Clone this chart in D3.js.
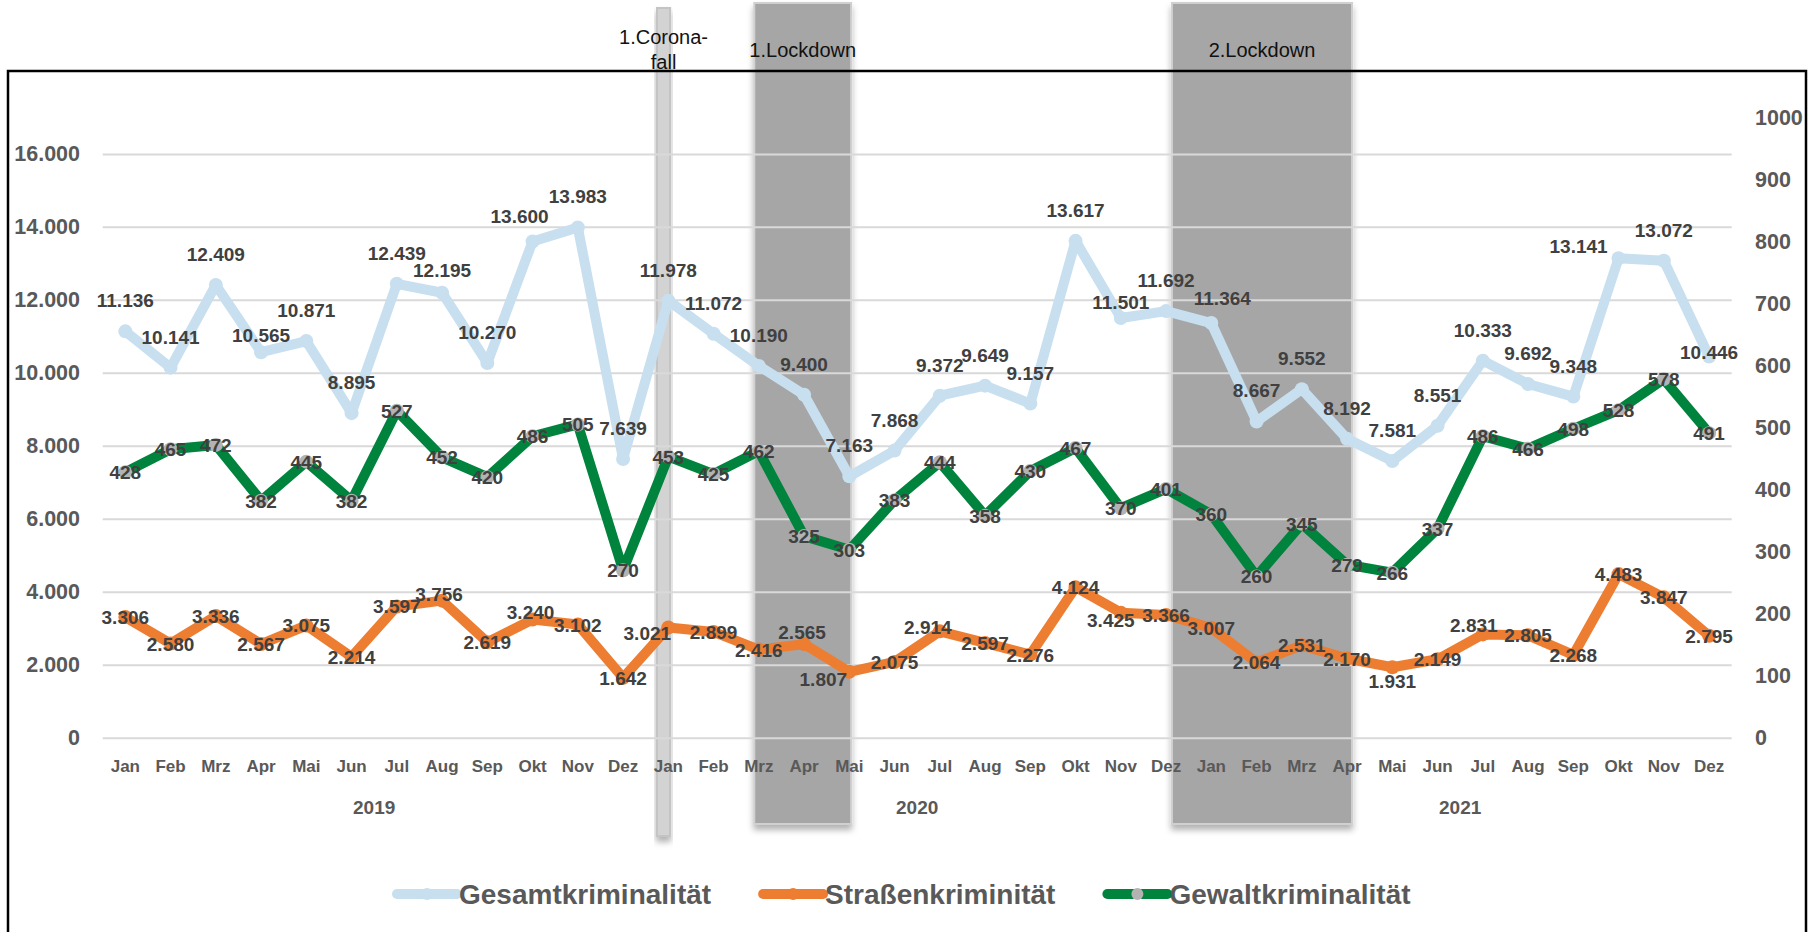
<!DOCTYPE html>
<html>
<head>
<meta charset="utf-8">
<script src="https://cdn.jsdelivr.net/npm/d3@7"></script>
<style>
  body { margin: 0; background: #fff; }
  text { font-family: "Liberation Sans", Arial, sans-serif; }
</style>
</head>
<body>
<svg id="chart"></svg>
<script>
var W = 1817, H = 932;

// data
var years = ["2019", "2020", "2021"];
var months = ["Jan","Feb","Mrz","Apr","Mai","Jun","Jul","Aug","Sep","Okt","Nov","Dez"];
var gesamt = [11136,10141,12409,10565,10871,8895,12439,12195,10270,13600,13983,7639,
              11978,11072,10190,9400,7163,7868,9372,9649,9157,13617,11501,11692,
              11364,8667,9552,8192,7581,8551,10333,9692,9348,13141,13072,10446];
var strassen = [3306,2580,3336,2567,3075,2214,3597,3756,2619,3240,3102,1642,
                3021,2899,2416,2565,1807,2075,2914,2597,2276,4124,3425,3366,
                3007,2064,2531,2170,1931,2149,2831,2805,2268,4483,3847,2795];
var gewalt = [428,465,472,382,445,382,527,452,420,486,505,270,
              453,425,462,325,303,383,444,358,430,467,370,401,
              360,260,345,279,266,337,486,466,498,528,578,491];
var leftTicks = [0,2000,4000,6000,8000,10000,12000,14000,16000];
var rightTicks = [0,100,200,300,400,500,600,700,800,900,1000];
var seriesNames = ["Gesamtkriminalität", "Straßenkriminität", "Gewaltkriminalität"];

// shaded periods, in month positions (0 = Jan 2019)
var periodLabels = [["1.Corona-", "fall"], ["1.Lockdown"], ["2.Lockdown"]];
var periodStart = [11.75, 13.9, 23.13];
var periodEnd = [12.04, 16.04, 27.11];

var cats = [];
years.forEach(y => months.forEach(m => cats.push({year: y, month: m})));

var de = d3.formatLocale({decimal: ",", thousands: ".", grouping: [3], currency: ["", "€"]});
var fmt = de.format(",d");

var plotL = 102.7, plotR = 1731.7, plotT = 117.4, plotB = 737.7;

// hand-moved data labels (pixel shifts, like in the original sheet)
var nudges = [
  {3: [0, 14], 7: [0, 8], 9: [-13, 6], 22: [0, 15], 24: [11, 6], 33: [-40, 19], 35: [0, 26]},
  {7: [-3, -7], 9: [-2, -7], 12: [-21, 6], 15: [-2, -12], 16: [-26, 7], 18: [-12, -4],
   22: [-10, 7], 28: [0, 14], 30: [-9, -9]},
  {}
];

var svg = d3.select("#chart").attr("width", W).attr("height", H);
svg.append("rect").attr("width", W).attr("height", H).attr("fill", "#fff");

var defs = svg.append("defs");
var f = defs.append("filter").attr("id", "shadow").attr("x", "-20%").attr("y", "-5%")
    .attr("width", "140%").attr("height", "110%");
f.append("feDropShadow").attr("dx", 0).attr("dy", 5).attr("stdDeviation", 3)
    .attr("flood-color", "#000").attr("flood-opacity", 0.3);

var x = d3.scaleBand().domain(d3.range(cats.length)).range([plotL, plotR]);
var bw = x.bandwidth();
var cx = i => x(i) + bw / 2;
var mpos = p => plotL + (p + 0.5) * bw;   // fractional month position
var yL = d3.scaleLinear().domain([0, 17000]).range([plotB, plotT]);
var yR = d3.scaleLinear().domain([0, 1000]).range([plotB, plotT]);

// shaded periods
periodLabels.forEach(function(lab, k) {
  var x0 = mpos(periodStart[k]), x1 = mpos(periodEnd[k]);
  var thin = k === 0;
  svg.append("rect")
      .attr("x", x0).attr("y", thin ? 8 : 3)
      .attr("width", x1 - x0).attr("height", thin ? 828 : 821)
      .attr("fill", thin ? "#d3d3d3" : "#a6a6a6")
      .attr("stroke", thin ? "#c4c4c4" : "#d0d0d0").attr("stroke-width", 2)
      .attr("filter", "url(#shadow)");
});

// frame
svg.append("rect").attr("x", 8).attr("y", 71).attr("width", 1798).attr("height", 900)
    .attr("fill", "none").attr("stroke", "#000").attr("stroke-width", 2.5);

// gridlines
svg.append("g")
    .attr("transform", `translate(${plotL},0)`)
    .call(d3.axisLeft(yL).tickValues(leftTicks).tickSize(-(plotR - plotL)).tickFormat(""))
    .call(g => g.select(".domain").remove())
    .call(g => g.selectAll("line").attr("stroke", "#d9d9d9").attr("stroke-width", 2));

// axes
svg.append("g")
    .attr("transform", `translate(${plotL},0)`)
    .call(d3.axisLeft(yL).tickValues(leftTicks).tickSize(0).tickPadding(22.7).tickFormat(fmt))
    .call(g => g.select(".domain").remove())
    .call(g => g.selectAll("text").attr("font-family", "Liberation Sans, Arial, sans-serif")
        .attr("font-size", 21.5).attr("font-weight", "bold").attr("fill", "#595959"));

svg.append("g")
    .attr("transform", `translate(${plotR},0)`)
    .call(d3.axisRight(yR).tickValues(rightTicks).tickSize(0).tickPadding(23.3).tickFormat(d3.format("d")))
    .call(g => g.select(".domain").remove())
    .call(g => g.selectAll("text").attr("font-family", "Liberation Sans, Arial, sans-serif")
        .attr("font-size", 21.5).attr("font-weight", "bold").attr("fill", "#595959"));

svg.append("g")
    .attr("transform", `translate(0,${plotB})`)
    .call(d3.axisBottom(x).tickSize(0).tickPadding(22).tickFormat(i => cats[i].month))
    .call(g => g.select(".domain").remove())
    .call(g => g.selectAll("text").attr("font-family", "Liberation Sans, Arial, sans-serif")
        .attr("font-size", 17).attr("font-weight", "bold").attr("fill", "#595959"));

svg.append("g").selectAll("text")
    .data(years)
    .join("text")
    .attr("x", (d, i) => (cx(i * 12) + cx(i * 12 + 11)) / 2)
    .attr("y", 814)
    .attr("text-anchor", "middle")
    .attr("font-size", 19).attr("font-weight", "bold").attr("fill", "#595959")
    .text(d => d);

// series
var series = [
  {values: gesamt, y: yL, color: "#c7dfef", marker: "#c7dfef", above: true, f: fmt},
  {values: strassen, y: yL, color: "#ed7d31", marker: "#ed7d31", above: false, f: fmt},
  {values: gewalt, y: yR, color: "#00843d", marker: "#b3b3b3", above: false, f: d3.format("d")}
];

series.forEach(function(s) {
  var line = d3.line().x((d, i) => cx(i)).y(d => s.y(d));
  svg.append("path")
      .datum(s.values)
      .attr("fill", "none")
      .attr("stroke", s.color)
      .attr("stroke-width", 10)
      .attr("stroke-linejoin", "round")
      .attr("stroke-linecap", "round")
      .attr("d", line);
  svg.append("g").selectAll("circle")
      .data(s.values)
      .join("circle")
      .attr("cx", (d, i) => cx(i))
      .attr("cy", d => s.y(d))
      .attr("r", 7)
      .attr("fill", s.marker);
});

series.forEach(function(s, k) {
  var nd = i => nudges[k][i] || [0, 0];
  svg.append("g").selectAll("text")
      .data(s.values)
      .join("text")
      .attr("x", (d, i) => cx(i) + nd(i)[0])
      .attr("y", (d, i) => s.y(d) + (s.above ? -24 : 7) + nd(i)[1])
      .attr("text-anchor", "middle")
      .attr("font-size", 19).attr("font-weight", "bold").attr("fill", "#404040")
      .text(d => s.f(d));
});

// period labels
periodLabels.forEach(function(lab, k) {
  var c = (mpos(periodStart[k]) + mpos(periodEnd[k])) / 2;
  var t = svg.append("text")
      .attr("x", c).attr("text-anchor", "middle")
      .attr("font-size", 20).attr("fill", "#111");
  if (lab.length > 1) {
    t.append("tspan").attr("x", c).attr("y", 44).text(lab[0]);
    t.append("tspan").attr("x", c).attr("y", 69).text(lab[1]);
  } else {
    t.attr("y", 57).text(lab[0]);
  }
});

// legend
var lx = 397, ly = 894;
series.forEach(function(s, k) {
  var g = svg.append("g");
  g.append("line").attr("x1", lx).attr("x2", lx + 60).attr("y1", ly).attr("y2", ly)
      .attr("stroke", s.color).attr("stroke-width", 10).attr("stroke-linecap", "round");
  g.append("circle").attr("cx", lx + 30).attr("cy", ly).attr("r", 6).attr("fill", s.marker);
  var t = g.append("text").attr("x", lx + 62).attr("y", ly + 10)
      .attr("font-size", 28).attr("font-weight", "bold").attr("fill", "#595959")
      .text(seriesNames[k]);
  lx = lx + 62 + t.node().getComputedTextLength() + 52;
});
</script>
</body>
</html>
